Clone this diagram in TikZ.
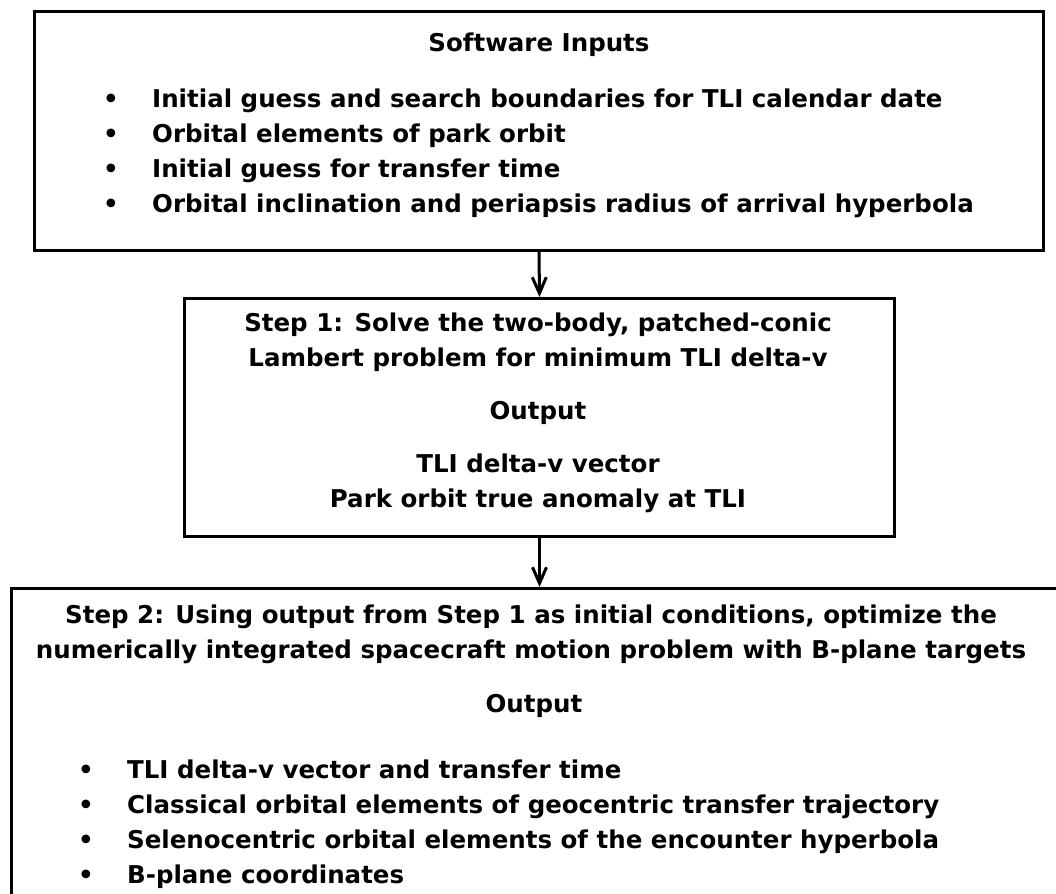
\documentclass[tikz,border=0pt]{standalone}
\usepackage{fontspec}
\setmainfont{DejaVu Sans}
\usetikzlibrary{arrows.meta}

\newcommand{\itemdot}{\makebox[49pt][l]{\textbullet}}

\begin{document}
\begin{tikzpicture}[x=1pt, y=-1pt, >={Straight Barb[length=16pt,width=14pt]},
  box/.style={draw, line width=3pt, inner sep=0pt},
  txt/.style={font=\fontsize{24.5}{35}\selectfont\bfseries, inner sep=0pt},
  itm/.style={txt, anchor=base west}]
\useasboundingbox (0,0) rectangle (1056,893);
\clip (0,0) rectangle (1056,893);

% the three stages
\node[box, anchor=north west, minimum width=1009pt, minimum height=239pt] (inputs) at (33,10) {};
\node[box, anchor=north west, minimum width=710pt, minimum height=238pt] (step1) at (183,297) {};
\node[box, anchor=north west, minimum width=1100pt, minimum height=400pt] (step2) at (10,587) {};

% software inputs
\node[txt, anchor=base] (intitle) at (539,52) {Software Inputs};
\node[itm] (in1) at (103,108) {\itemdot Initial guess and search boundaries for TLI calendar date};
\node[itm] (in2) at (103,143) {\itemdot Orbital elements of park orbit};
\node[itm] (in3) at (103,178) {\itemdot Initial guess for transfer time};
\node[itm] (in4) at (103,213) {\itemdot Orbital inclination and periapsis radius of arrival hyperbola};

% step 1
\node[txt, align=center] (s1title) at (538,342) {Step 1: Solve the two-body, patched-conic\\Lambert problem for minimum TLI delta-v};
\node[txt, anchor=base] (s1out) at (538,419) {Output};
\node[txt, align=center] (s1res) at (538,483) {TLI delta-v vector\\Park orbit true anomaly at TLI};

% step 2
\node[txt, align=center] (s2title) at (531,634) {Step 2: Using output from Step 1 as initial conditions, optimize the\\numerically integrated spacecraft motion problem with B-plane targets};
\node[txt, anchor=base] (s2out) at (534,712) {Output};
\node[itm] (out1) at (78,778) {\itemdot TLI delta-v vector and transfer time};
\node[itm] (out2) at (78,813) {\itemdot Classical orbital elements of geocentric transfer trajectory};
\node[itm] (out3) at (78,848) {\itemdot Selenocentric orbital elements of the encounter hyperbola};
\node[itm] (out4) at (78,883) {\itemdot B-plane coordinates};

\draw[->, line width=3pt] (inputs.south) -- (step1.north);
\draw[->, line width=3pt] (step1.south) -- (step1.south |- step2.north);
\end{tikzpicture}
\end{document}
